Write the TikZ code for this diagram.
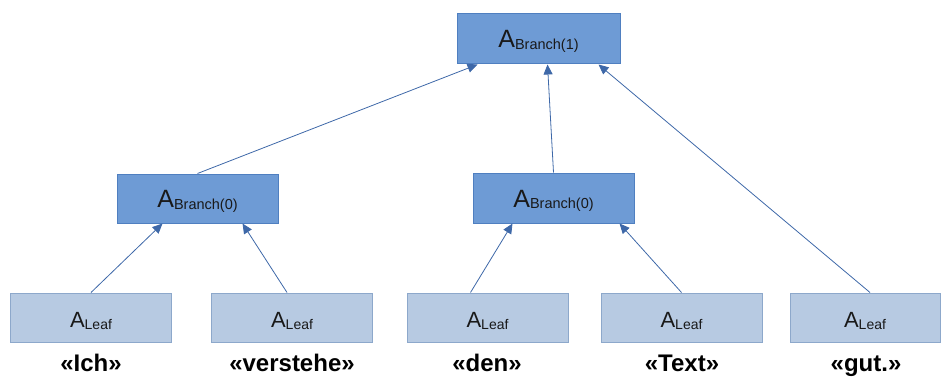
\documentclass[tikz,border=0pt]{standalone}
\usepackage{fontspec}
\setmainfont{Liberation Sans}
\usepackage{tikz}
\usetikzlibrary{arrows.meta, positioning}

\definecolor{branchfill}{HTML}{6E9BD5}
\definecolor{branchline}{HTML}{4F7FC0}
\definecolor{leaffill}{HTML}{B7CAE2}
\definecolor{leafline}{HTML}{8DA8CB}
\definecolor{edgeblue}{HTML}{3E68A8}

% A with a lowered index, like A_Leaf; #1 pushes the baseline below the box centre
\newcommand{\aidx}[4]{\raisebox{-#1}[0pt][0pt]{{\fontsize{#2}{#2}\selectfont A}\raisebox{-1.5pt}{\fontsize{#3}{#3}\selectfont #4}}}

\tikzset{branchbox/.style={draw=branchline, fill=branchfill, line width=1pt, minimum width=161pt, minimum height=49pt, inner sep=0pt, text=black!90}}
\tikzset{leafbox/.style={draw=leafline, fill=leaffill, line width=1pt, minimum width=161pt, minimum height=49pt, inner sep=0pt, text=black!90}}
\tikzset{word/.style={font=\bfseries\fontsize{24}{24}\selectfont, inner sep=0pt, anchor=base}}
\tikzset{up/.style={draw=edgeblue, line width=0.8pt, -{Triangle[length=10pt, width=9pt]}}}

\begin{document}
\begin{tikzpicture}[x=1pt, y=-1pt]
    \useasboundingbox (0, 0) rectangle (941, 385);

    % the tree, pixel-ish positions
    \node[branchbox, minimum width=163pt, minimum height=50pt] (top) at (538.5, 39) {\aidx{9pt}{25}{14.5}{Branch(1)}};
    \node[branchbox] (brl) at (197.5, 198.5) {\aidx{9pt}{25}{14.5}{Branch(0)}};
    \node[branchbox, minimum height=50pt] (brr) at (553.5, 198) {\aidx{9pt}{25}{14.5}{Branch(0)}};

    \node[leafbox] (lfa) at (91, 317.5) {\aidx{10pt}{22}{14}{Leaf}};
    \node[leafbox] (lfb) at (292, 317.5) {\aidx{10pt}{22}{14}{Leaf}};
    \node[leafbox] (lfc) at (487.5, 317.5) {\aidx{10pt}{22}{14}{Leaf}};
    \node[leafbox] (lfd) at (681.5, 317.5) {\aidx{10pt}{22}{14}{Leaf}};
    \node[leafbox, minimum width=150pt] (lfe) at (865, 317.5) {\aidx{10pt}{22}{14}{Leaf}};

    \node[word] (wa) at (91, 371) {«Ich»};
    \node[word] (wb) at (292, 371) {«verstehe»};
    \node[word] (wc) at (487, 371) {«den»};
    \node[word] (wd) at (682, 371) {«Text»};
    \node[word] (we) at (866, 371) {«gut.»};

    \draw[up] (lfa.north) -- ([xshift=-35pt]brl.south);
    \draw[up] ([xshift=-5pt]lfb.north) -- ([xshift=45pt]brl.south);
    \draw[up] ([xshift=-17pt]lfc.north) -- ([xshift=-41pt]brr.south);
    \draw[up] (lfd.north) -- ([xshift=66pt]brr.south);
    \draw[up] (brl.north) -- ([xshift=-61pt]top.south);
    \draw[up] (brr.north) -- ([xshift=9pt]top.south);
    \draw[up] ([xshift=5pt]lfe.north) -- ([xshift=60pt]top.south);
\end{tikzpicture}
\end{document}
